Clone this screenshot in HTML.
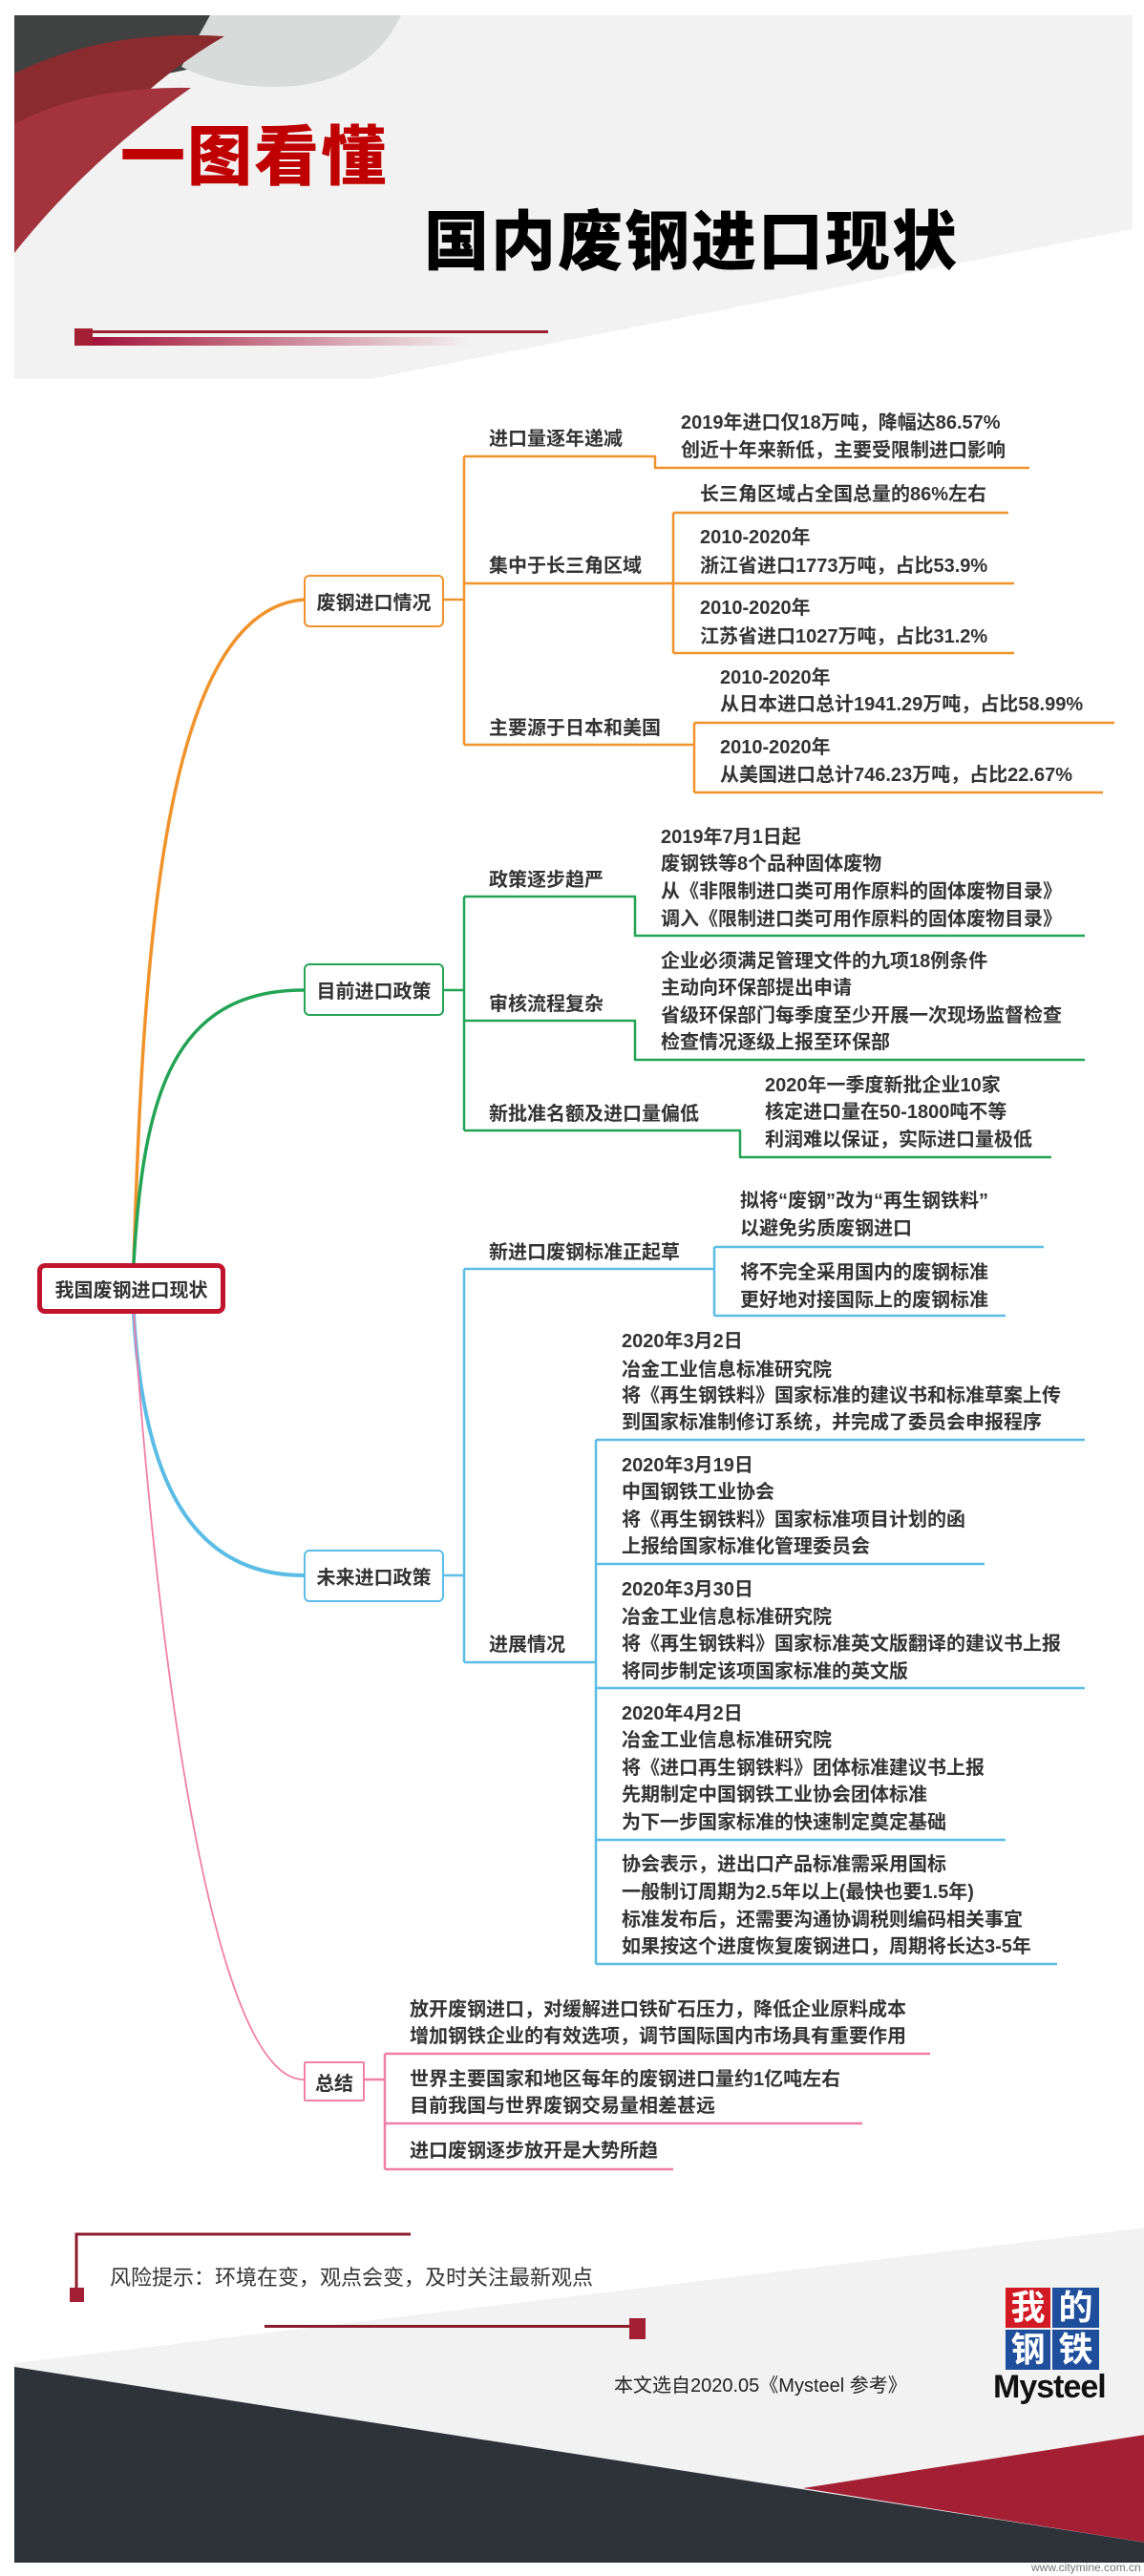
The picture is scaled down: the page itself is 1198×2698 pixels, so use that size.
<!DOCTYPE html>
<html><head><meta charset="utf-8">
<style>
*{margin:0;padding:0;box-sizing:border-box}
body{width:1198px;height:2698px;position:relative;background:#fff;font-family:"Liberation Sans","Noto Sans CJK SC",sans-serif;overflow:hidden}
.t{position:absolute;font-size:20px;line-height:28px;font-weight:bold;color:#333;white-space:nowrap}
.box{position:absolute;background:#fff;border:2px solid;border-radius:6px;display:flex;align-items:center;justify-content:center;font-size:20px;font-weight:bold;color:#333}
svg{position:absolute;left:0;top:0}
</style></head><body>
<svg width="1198" height="2698" viewBox="0 0 1198 2698">
 <!-- header -->
 <rect x="15" y="16" width="1171" height="381" fill="#f2f2f2"/>
 <polygon points="1186,240 1186,397 388,397" fill="#fff"/>
 <polygon points="15,16 290,16 210,70 15,110" fill="#404242"/>
 <path d="M220,16 L420,16 Q390,80 310,90 Q240,95 190,70 Z" fill="#d9dada"/>
 <path d="M15,77 Q110,30 235,38 Q110,110 15,265 Z" fill="#8a2b2f"/>
 <path d="M15,130 Q90,90 200,92 Q90,170 15,265 Z" fill="#a3343e"/>
 <rect x="78" y="344" width="19" height="18" fill="#a31f34"/>
 <rect x="97" y="346" width="477" height="3" fill="#9a2233"/>
 <defs><linearGradient id="g1" x1="0" x2="1"><stop offset="0" stop-color="#a3123a"/><stop offset="1" stop-color="#a3123a" stop-opacity="0"/></linearGradient></defs>
 <rect x="97" y="353" width="395" height="9" fill="url(#g1)"/>
 <!-- main curves -->
 <g fill="none" stroke-linecap="round">
  <path d="M140,1323 C150,1000 170,640 318,628" stroke="#f0932b" stroke-width="3.5"/>
  <path d="M140,1323 C150,1150 180,1037 318,1037" stroke="#23a455" stroke-width="3.5"/>
  <path d="M140,1376 C150,1550 200,1650 318,1650" stroke="#5bbde6" stroke-width="4"/>
  <path d="M140,1376 C170,1800 230,2178 318,2178" stroke="#f07fa8" stroke-width="1.8"/>
 </g>
 <g fill="none" stroke-width="2.5" stroke-linejoin="round">
  <path stroke="#f0932b" d="M465,628 H486 M486,478 V780 M486,478 H686 V490 H1078 M486,611 H705 M705,537 V684 M705,537 H1056 M705,611 H1062 M705,684 H1062 M486,780 H727 M727,757 V830 M727,757 H1167 M727,830 H1155"/>
  <path stroke="#23a455" d="M465,1037 H486 M486,939 V1184 M486,939 H665 V980 H1136 M486,1069 H665 V1110 H1136 M486,1184 H775 V1212 H1101"/>
  <path stroke="#5bbde6" d="M465,1650 H486 M486,1329 V1741 M486,1329 H748 M748,1306 V1378 M748,1306 H1093 M748,1378 H1053 M486,1741 H624 M624,1508 V2057 M624,1508 H1136 M624,1638 H1031 M624,1768 H1136 M624,1927 H1053 M624,2057 H1107"/>
  <path stroke="#f07fa8" d="M382,2178 H403 M403,2151 V2272 M403,2151 H974 M403,2224 H903 M403,2272 H705"/>
 </g>
 <!-- footer -->
 <polygon points="15,2475 1200,2333 1200,2684 15,2684" fill="#f2f2f2"/>
 <polygon points="15,2479 1200,2663 1200,2684 15,2684" fill="#2e3239"/>
 <polygon points="841,2606 1200,2550 1200,2663" fill="#a31f34"/>
 <path d="M80,2410 V2340 H430" fill="none" stroke="#8c1c2c" stroke-width="3"/>
 <rect x="73" y="2396" width="15" height="15" fill="#a31f34"/>
 <rect x="277" y="2435" width="382" height="3" fill="#8c1c2c"/>
 <rect x="659" y="2428" width="17" height="22" fill="#a31f34"/>
 <rect x="1053" y="2396" width="47" height="42" fill="#d21a24"/>
 <rect x="1102" y="2396" width="49" height="42" fill="#1f4e9c"/>
 <rect x="1053" y="2440" width="47" height="42" fill="#1f4e9c"/>
 <rect x="1102" y="2440" width="49" height="42" fill="#1f4e9c"/>
</svg>

<div style="position:absolute;left:126px;top:127px;font-size:68px;line-height:76px;font-weight:900;color:#c00000;letter-spacing:2px">一图看懂</div>
<div style="position:absolute;left:444px;top:216px;font-size:68px;line-height:76px;font-weight:900;color:#000;letter-spacing:2px">国内废钢进口现状</div>

<div class="box" style="left:39px;top:1323px;width:197px;height:53px;border:5px solid #c0142e;border-radius:8px">我国废钢进口现状</div>
<div class="box" style="left:318px;top:602px;width:147px;height:55px;border-color:#f0932b">废钢进口情况</div>
<div class="box" style="left:318px;top:1009px;width:147px;height:55px;border-color:#23a455">目前进口政策</div>
<div class="box" style="left:318px;top:1623px;width:147px;height:55px;border-color:#5bbde6">未来进口政策</div>
<div class="box" style="left:318px;top:2159px;width:64px;height:42px;border-color:#f07fa8;border-radius:2px">总结</div>

<div class="t" style="left:512px;top:446px">进口量逐年递减</div>
<div class="t" style="left:512px;top:579px">集中于长三角区域</div>
<div class="t" style="left:512px;top:749px">主要源于日本和美国</div>
<div class="t" style="left:713px;top:429px">2019年进口仅18万吨，降幅达86.57%</div>
<div class="t" style="left:713px;top:458px">创近十年来新低，主要受限制进口影响</div>
<div class="t" style="left:733px;top:504px">长三角区域占全国总量的86%左右</div>
<div class="t" style="left:733px;top:549px">2010-2020年</div>
<div class="t" style="left:733px;top:579px">浙江省进口1773万吨，占比53.9%</div>
<div class="t" style="left:733px;top:623px">2010-2020年</div>
<div class="t" style="left:733px;top:653px">江苏省进口1027万吨，占比31.2%</div>
<div class="t" style="left:754px;top:696px">2010-2020年</div>
<div class="t" style="left:754px;top:724px">从日本进口总计1941.29万吨，占比58.99%</div>
<div class="t" style="left:754px;top:769px">2010-2020年</div>
<div class="t" style="left:754px;top:798px">从美国进口总计746.23万吨，占比22.67%</div>

<div class="t" style="left:512px;top:908px">政策逐步趋严</div>
<div class="t" style="left:512px;top:1038px">审核流程复杂</div>
<div class="t" style="left:512px;top:1153px">新批准名额及进口量偏低</div>
<div class="t" style="left:692px;top:863px">2019年7月1日起</div>
<div class="t" style="left:692px;top:891px">废钢铁等8个品种固体废物</div>
<div class="t" style="left:692px;top:920px">从《非限制进口类可用作原料的固体废物目录》</div>
<div class="t" style="left:692px;top:949px">调入《限制进口类可用作原料的固体废物目录》</div>
<div class="t" style="left:692px;top:993px">企业必须满足管理文件的九项18例条件</div>
<div class="t" style="left:692px;top:1021px">主动向环保部提出申请</div>
<div class="t" style="left:692px;top:1050px">省级环保部门每季度至少开展一次现场监督检查</div>
<div class="t" style="left:692px;top:1078px">检查情况逐级上报至环保部</div>
<div class="t" style="left:801px;top:1123px">2020年一季度新批企业10家</div>
<div class="t" style="left:801px;top:1151px">核定进口量在50-1800吨不等</div>
<div class="t" style="left:801px;top:1180px">利润难以保证，实际进口量极低</div>

<div class="t" style="left:512px;top:1298px">新进口废钢标准正起草</div>
<div class="t" style="left:512px;top:1709px">进展情况</div>
<div class="t" style="left:775px;top:1244px">拟将“废钢”改为“再生钢铁料”</div>
<div class="t" style="left:775px;top:1273px">以避免劣质废钢进口</div>
<div class="t" style="left:775px;top:1319px">将不完全采用国内的废钢标准</div>
<div class="t" style="left:775px;top:1348px">更好地对接国际上的废钢标准</div>
<div class="t" style="left:651px;top:1391px">2020年3月2日</div>
<div class="t" style="left:651px;top:1421px">冶金工业信息标准研究院</div>
<div class="t" style="left:651px;top:1448px">将《再生钢铁料》国家标准的建议书和标准草案上传</div>
<div class="t" style="left:651px;top:1476px">到国家标准制修订系统，并完成了委员会申报程序</div>
<div class="t" style="left:651px;top:1521px">2020年3月19日</div>
<div class="t" style="left:651px;top:1549px">中国钢铁工业协会</div>
<div class="t" style="left:651px;top:1578px">将《再生钢铁料》国家标准项目计划的函</div>
<div class="t" style="left:651px;top:1606px">上报给国家标准化管理委员会</div>
<div class="t" style="left:651px;top:1651px">2020年3月30日</div>
<div class="t" style="left:651px;top:1680px">冶金工业信息标准研究院</div>
<div class="t" style="left:651px;top:1708px">将《再生钢铁料》国家标准英文版翻译的建议书上报</div>
<div class="t" style="left:651px;top:1737px">将同步制定该项国家标准的英文版</div>
<div class="t" style="left:651px;top:1781px">2020年4月2日</div>
<div class="t" style="left:651px;top:1809px">冶金工业信息标准研究院</div>
<div class="t" style="left:651px;top:1838px">将《进口再生钢铁料》团体标准建议书上报</div>
<div class="t" style="left:651px;top:1866px">先期制定中国钢铁工业协会团体标准</div>
<div class="t" style="left:651px;top:1895px">为下一步国家标准的快速制定奠定基础</div>
<div class="t" style="left:651px;top:1939px">协会表示，进出口产品标准需采用国标</div>
<div class="t" style="left:651px;top:1968px">一般制订周期为2.5年以上(最快也要1.5年)</div>
<div class="t" style="left:651px;top:1997px">标准发布后，还需要沟通协调税则编码相关事宜</div>
<div class="t" style="left:651px;top:2025px">如果按这个进度恢复废钢进口，周期将长达3-5年</div>

<div class="t" style="left:429px;top:2091px">放开废钢进口，对缓解进口铁矿石压力，降低企业原料成本</div>
<div class="t" style="left:429px;top:2119px">增加钢铁企业的有效选项，调节国际国内市场具有重要作用</div>
<div class="t" style="left:429px;top:2164px">世界主要国家和地区每年的废钢进口量约1亿吨左右</div>
<div class="t" style="left:429px;top:2192px">目前我国与世界废钢交易量相差甚远</div>
<div class="t" style="left:429px;top:2239px">进口废钢逐步放开是大势所趋</div>

<div class="t" style="left:115px;top:2371px;font-size:22px;line-height:30px;font-weight:normal">风险提示：环境在变，观点会变，及时关注最新观点</div>
<div class="t" style="left:643px;top:2485px;font-size:20px;font-weight:normal;color:#222">本文选自2020.05《Mysteel 参考》</div>
<div style="position:absolute;left:1053px;top:2396px;width:47px;height:42px;color:#fff;font-size:36px;line-height:42px;text-align:center;font-weight:bold">我</div>
<div style="position:absolute;left:1102px;top:2396px;width:49px;height:42px;color:#fff;font-size:36px;line-height:42px;text-align:center;font-weight:bold">的</div>
<div style="position:absolute;left:1053px;top:2440px;width:47px;height:42px;color:#fff;font-size:36px;line-height:42px;text-align:center;font-weight:bold">钢</div>
<div style="position:absolute;left:1102px;top:2440px;width:49px;height:42px;color:#fff;font-size:36px;line-height:42px;text-align:center;font-weight:bold">铁</div>
<div style="position:absolute;left:1040px;top:2478px;font-size:34px;line-height:44px;font-weight:900;color:#111;letter-spacing:-1px">Mysteel</div>
<div style="position:absolute;left:1080px;top:2682px;font-size:12px;line-height:14px;color:#777">www.citymine.com.cn</div>
</body></html>
